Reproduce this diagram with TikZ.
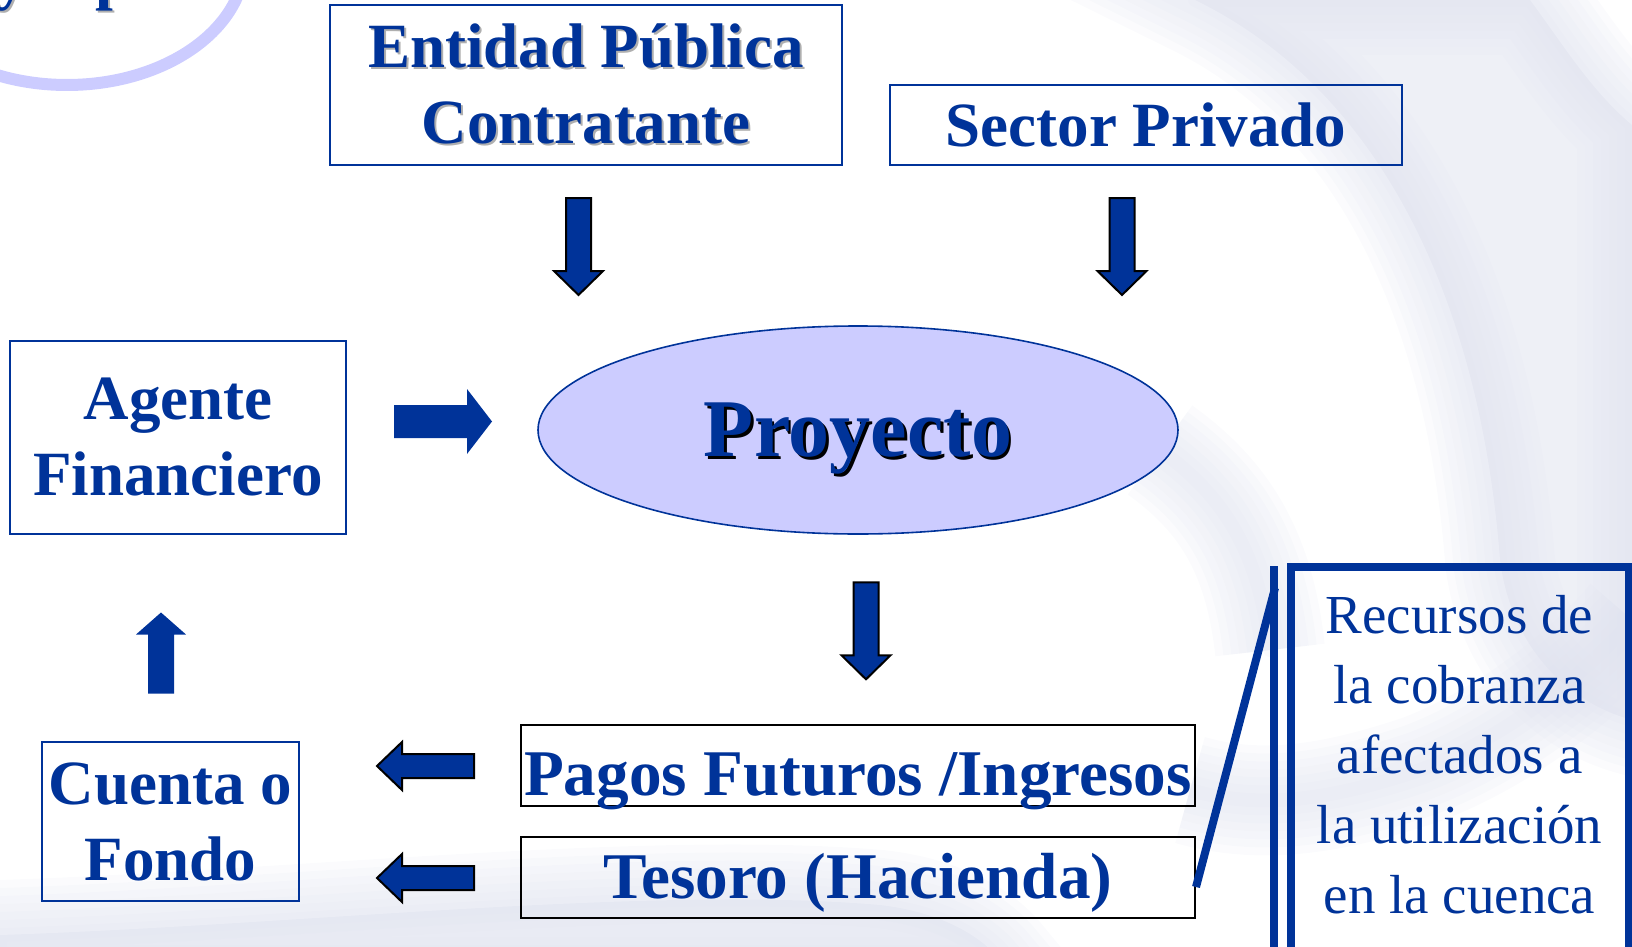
\documentclass[tikz,border=0pt]{standalone}
\usepackage{fontspec}
\setmainfont{Liberation Serif}
\usetikzlibrary{shapes.geometric,calc}

\definecolor{dkblue}{RGB}{0,51,153}
\definecolor{lavender}{RGB}{204,204,255}
\definecolor{bgswoosh}{RGB}{222,225,238}
\definecolor{shadegray}{RGB}{175,175,175}

% text with a drop shadow
\newcommand{\shadowed}[3][1pt]{\leavevmode\rlap{\kern#1\raisebox{-#1}{\color{#2}#3}}#3}

\begin{document}
\begin{tikzpicture}[x=0.5pt,y=-0.5pt,
  box/.style={draw=dkblue,line width=1pt,text=dkblue,align=center,inner sep=0pt,
    font=\bfseries\fontsize{31.5}{38}\selectfont},
  blackbox/.style={draw=black,line width=1pt,text=dkblue,inner sep=0pt,
    minimum width=337pt,minimum height=40.5pt,font=\bfseries\fontsize{32.6}{38}\selectfont},
  arrowline/.style={fill=dkblue,draw=black,line width=1pt},
  arrowplain/.style={fill=dkblue},
  callout/.style={draw=dkblue,line width=4pt},
  soft/.style={draw=bgswoosh,draw opacity=.12,line cap=round,line join=round,
    preaction={draw=bgswoosh,draw opacity=.12,line width=55pt},
    preaction={draw=bgswoosh,draw opacity=.12,line width=47pt},
    preaction={draw=bgswoosh,draw opacity=.12,line width=39pt},
    preaction={draw=bgswoosh,draw opacity=.12,line width=31pt},
    preaction={draw=bgswoosh,draw opacity=.12,line width=23pt},
    preaction={draw=bgswoosh,draw opacity=.12,line width=15pt},
    line width=7pt},
  pics/blockarrow/.style n args={4}{code={
    \path[pic actions] (-#1/2,-#2/2) -- ({#1/2-#4},-#2/2) -- ({#1/2-#4},-#3/2) -- (#1/2,0)
      -- ({#1/2-#4},#3/2) -- ({#1/2-#4},#2/2) -- (-#1/2,#2/2) -- cycle;}}]
\useasboundingbox (0,0) rectangle (1632,947);
\clip (0,0) rectangle (1632,947);

% background
\path[soft,fill=bgswoosh,fill opacity=.5] (1195,0) .. controls (1380,90) and (1480,300) .. (1500,560)
  .. controls (1510,640) and (1560,700) .. (1632,720) -- (1632,125)
  .. controls (1590,90) and (1560,40) .. (1530,0) -- cycle;
\path[soft] (1160,450) .. controls (1230,500) and (1260,560) .. (1270,650);
\path[soft] (1190,790) .. controls (1260,810) and (1330,800) .. (1420,770)
  .. controls (1500,740) and (1580,680) .. (1632,620);
\path[soft,fill=bgswoosh,fill opacity=.45] (0,960) -- (0,935) .. controls (300,925) and (650,885) .. (880,905)
  .. controls (940,912) and (980,935) .. (1000,960) -- cycle;

% title remains
\draw[lavender,line width=6pt] (67,-40) ellipse [x radius=178,y radius=125];
\node[anchor=base west,inner sep=0pt,text=dkblue,font=\bfseries\fontsize{32}{38}\selectfont]
  (titlerest) at (-5,-2) {\shadowed{shadegray}{y\hspace{34pt}p}};

% nodes
\node[box,minimum width=256pt,minimum height=80pt] (entidad) at (586,85)
  {\shadowed{shadegray}{Entidad Pública}\\\shadowed{shadegray}{Contratante}};
\node[box,minimum width=256pt,minimum height=40pt] (sector) at (1146,125) {Sector Privado};
\node[box,minimum width=168pt,minimum height=96.5pt] (agente) at (178,437.5) {Agente\\Financiero};
\node[box,minimum width=128.5pt,minimum height=79.5pt] (cuenta) at (170.5,821.5) {Cuenta o\\Fondo};
\node[ellipse,draw=dkblue,line width=.8pt,fill=lavender,minimum width=320pt,minimum height=104pt,
  inner sep=0pt,text=dkblue,text depth=0pt,font=\bfseries\fontsize{41}{48}\selectfont]
  (proyecto) at (858,430) {\shadowed[1.4pt]{black}{Proyecto}};
\node[blackbox,text height=29.5pt,text depth=0pt] (pagos) at (858,765.5) {Pagos Futuros /Ingresos};
\node[blackbox,text height=22pt,text depth=1.5pt] (tesoro) at (858,877.5) {Tesoro (Hacienda)};

% arrows
\pic[arrowline,rotate=-90] at ($(entidad.south)+(-7.5,80.5)$) {blockarrow={97}{25}{49}{24}};
\pic[arrowline,rotate=-90] at ($(sector.south)+(-24,80.5)$) {blockarrow={97}{25}{49}{24}};
\pic[arrowplain] at ($(agente.east)+(96,-16)$) {blockarrow={98}{33}{65}{25}};
\pic[arrowline,rotate=-90] at ($(proyecto.south)+(8,96)$) {blockarrow={97}{25}{49}{24}};
\pic[arrowplain,rotate=90] at ($(cuenta.north)+(-9.5,-88)$) {blockarrow={81}{26}{50}{22}};
\pic[arrowline,rotate=180] at ($(pagos.west)+(-94.5,.5)$) {blockarrow={97}{24}{48}{25}};
\pic[arrowline,rotate=180] at ($(tesoro.west)+(-94.5,.5)$) {blockarrow={97}{24}{48}{25}};

% callout
\coordinate (bartop) at (1274,566);
\coordinate (barbot) at (1274,1000);
\coordinate (calltip) at (1275,588);
\draw[callout] (1290.5,566.5) rectangle (1628.5,1000);
\draw[callout] (bartop) -- (barbot);
\draw[callout] ([yshift=-4.75pt]tesoro.east) -- (calltip);
\node[text=dkblue,align=center,inner sep=0pt,font=\fontsize{27.5}{35}\selectfont]
  (recursos) at (1459.5,754.2) {Recursos de\\la cobranza\\afectados a\\la utilización\\en la cuenca};
\end{tikzpicture}
\end{document}
